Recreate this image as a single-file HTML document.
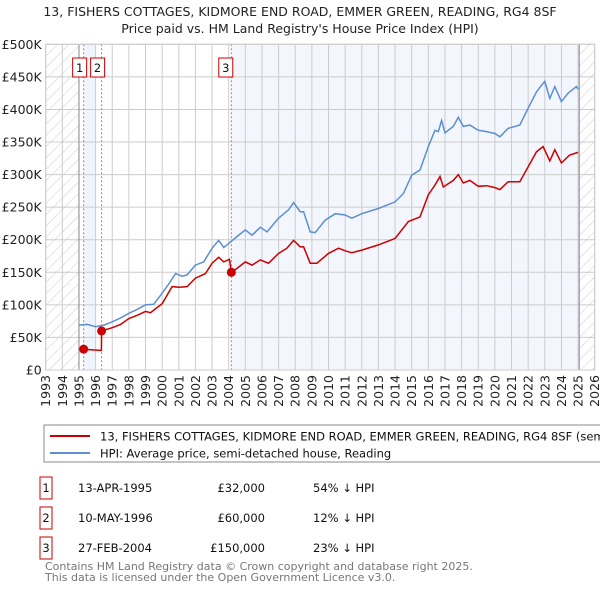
<!DOCTYPE html>
<html><head><meta charset="utf-8"><style>
body{margin:0;background:#fff;font-family:"Liberation Sans","DejaVu Sans",sans-serif;}
svg text{font-family:"DejaVu Sans","Liberation Sans",sans-serif;}
</style></head><body>
<svg id="c" width="600" height="590" xmlns="http://www.w3.org/2000/svg">
<defs><pattern id="hatch" width="8" height="8" patternUnits="userSpaceOnUse" patternTransform="rotate(45)"><line x1="0" y1="0" x2="0" y2="8" stroke="#ccc" stroke-width="1"/></pattern></defs>
<text x="300" y="16" font-size="12.5" text-anchor="middle" fill="#222">13, FISHERS COTTAGES, KIDMORE END ROAD, EMMER GREEN, READING, RG4 8SF</text>
<text x="300" y="33" font-size="12.5" text-anchor="middle" fill="#222">Price paid vs. HM Land Registry's House Price Index (HPI)</text>
<g id="plot"></g>
<rect x="44" y="425" width="570" height="37" fill="#fff" stroke="#888"/>
<line x1="50" y1="436" x2="90" y2="436" stroke="#cc0000" stroke-width="2"/>
<text x="100" y="440.5" font-size="11.5" fill="#111">13, FISHERS COTTAGES, KIDMORE END ROAD, EMMER GREEN, READING, RG4 8SF (semi-detached house)</text>
<line x1="50" y1="453" x2="90" y2="453" stroke="#5b8fd0" stroke-width="2"/>
<text x="100" y="457.5" font-size="11.5" fill="#111">HPI: Average price, semi-detached house, Reading</text>
<g id="table" font-size="11.5" fill="#111"></g>
<text x="45" y="570" font-size="11" fill="#777">Contains HM Land Registry data © Crown copyright and database right 2025.</text>
<text x="45" y="581" font-size="11" fill="#777">This data is licensed under the Open Government Licence v3.0.</text>
</svg>
<script>
const yearTicks=[1993,1994,1995,1996,1997,1998,1999,2000,2001,2002,2003,2004,2005,2006,2007,2008,2009,2010,2011,2012,2013,2014,2015,2016,2017,2018,2019,2020,2021,2022,2023,2024,2025,2026];
const valueTicks=[0,50,100,150,200,250,300,350,400,450,500];
const valueLabels=["£0","£50K","£100K","£150K","£200K","£250K","£300K","£350K","£400K","£450K","£500K"];
const hpiYears=[1995,1995.5,1996,1996.5,1997,1997.5,1998,1998.5,1999,1999.5,2000,2000.4,2000.8,2001.2,2001.5,2002,2002.5,2003,2003.4,2003.7,2004,2004.5,2005,2005.4,2005.9,2006.3,2007,2007.6,2007.9,2008.3,2008.5,2008.9,2009.2,2009.8,2010.4,2011,2011.4,2012,2013,2014,2014.5,2015,2015.5,2016,2016.4,2016.6,2016.8,2017,2017.5,2017.8,2018.1,2018.5,2019,2019.5,2020,2020.3,2020.8,2021.5,2022,2022.5,2022.8,2023,2023.3,2023.6,2024,2024.4,2024.9,2025];
const hpiValues=[69,70,66.5,69,74,80,87,93,100,101,118,132,148,144,146,161,166,187,199,188,194,205,215,207,219,212,233,246,257,243,243,212,211,230,240,238,233,240,248,258,271,299,307,343,368,366,383,364,374,388,374,376,368,366,363,358,371,376,402,427,437,443,417,435,412,425,435,431];
const priceYears=[1995.28,1996.35,1996.36,1997,1997.5,1998,1998.5,1999,1999.3,2000,2000.6,2001,2001.5,2002,2002.6,2003,2003.4,2003.7,2004.05,2004.16,2004.5,2005,2005.4,2005.9,2006.4,2007,2007.5,2007.9,2008.3,2008.5,2008.9,2009.3,2010,2010.6,2011,2011.4,2012,2013,2014,2014.8,2015.5,2016,2016.4,2016.7,2016.9,2017.5,2017.8,2018.1,2018.5,2019,2019.5,2020,2020.3,2020.8,2021.5,2022,2022.5,2022.9,2023.3,2023.6,2024,2024.5,2025];
const priceValues=[32,30,60,65,70,79,84,90,88,102,128,127,128,141,148,164,173,166,170,150,156,166,161,169,164,179,187,199,189,189,164,164,179,187,183,180,184,192,202,228,235,269,284,297,281,291,300,287,291,282,283,280,277,289,289,312,335,343,321,338,318,330,334];
const saleLabels=["1","2","3"];
const saleYears=[1995.28,1996.36,2004.16];
const saleValues=[32,60,150];
const saleDates=["13-APR-1995","10-MAY-1996","27-FEB-2004"];
const salePrices=["£32,000","£60,000","£150,000"];
const saleDiffs=["54% ↓ HPI","12% ↓ HPI","23% ↓ HPI"];

const L=45.7,R=594.7,T=44.3,B=370;
const x=y=>L+(y-1993)*(R-L)/33;
const yv=v=>B-v*(B-T)/500;
const NS="http://www.w3.org/2000/svg";
const g=document.getElementById('plot');
function mk(tag,attrs,parent){const e=document.createElementNS(NS,tag);for(const k in attrs)e.setAttribute(k,attrs[k]);(parent||g).appendChild(e);return e;}
let e;
e=mk('rect',{x:L,y:T,width:R-L,height:B-T,fill:'#fff'});


e=mk('rect',{x:L,y:T,width:x(1995)-L,height:B-T,fill:'url(#hatch)'});


e=mk('rect',{x:x(2025.07),y:T,width:R-x(2025.07),height:B-T,fill:'url(#hatch)'});


e=mk('rect',{x:x(saleYears[0]),y:T,width:x(1996)-x(saleYears[0]),height:B-T,fill:'#f0f4fd'});


e=mk('rect',{x:x(saleYears[2]),y:T,width:x(2025.07)-x(saleYears[2]),height:B-T,fill:'#f3f6fd'});


yearTicks.forEach(yr=>{
 e=mk('line',{x1:x(yr),x2:x(yr),y1:T,y2:B,stroke:'#ccc','stroke-width':1});
 
 
 e=mk('text',{x:0,y:0,'font-size':12.5,fill:'#222','text-anchor':'end',transform:`translate(${x(yr)+4.5},${B+5}) rotate(-90)`});
 e.textContent=yr;
 
 
});
valueTicks.forEach((v,i)=>{
 e=mk('line',{x1:L,x2:R,y1:yv(v),y2:yv(v),stroke:'#ccc','stroke-width':1});
 
 
 e=mk('text',{x:L-4,y:yv(v)+4.5,'font-size':12.5,fill:'#222','text-anchor':'end'});
 e.textContent=valueLabels[i];
 
 
});
e=mk('line',{x1:x(1995),x2:x(1995),y1:T,y2:B,stroke:'#888'});


e=mk('line',{x1:x(2025.07),x2:x(2025.07),y1:T,y2:B,stroke:'#888'});


const boxOff=[-4,-4,-5.6];
saleYears.forEach((s,i)=>{
 e=mk('line',{x1:x(s),x2:x(s),y1:T,y2:B,stroke:'#e66','stroke-dasharray':'2,2'});
 
 
 const bx=x(s)+boxOff[i];
 e=mk('rect',{x:bx-7,y:58,width:14,height:19,fill:'#fff',stroke:'#c00'});
 
 
 e=mk('text',{x:bx,y:72,'font-size':11.5,'text-anchor':'middle',fill:'#111'});
 e.textContent=saleLabels[i];
 
 
});
e=mk('path',{d:hpiYears.map((yr,i)=>(i?'L':'M')+x(yr).toFixed(1)+','+yv(hpiValues[i]).toFixed(1)).join(''),fill:'none',stroke:'#5b8fd0','stroke-width':1.5});


e=mk('path',{d:priceYears.map((yr,i)=>(i?'L':'M')+x(yr).toFixed(1)+','+yv(priceValues[i]).toFixed(1)).join(''),fill:'none',stroke:'#cc0000','stroke-width':1.5});


saleYears.forEach((s,i)=>{
 e=mk('circle',{cx:x(s),cy:yv(saleValues[i]),r:4.5,fill:'#cc0000'});
 
 
});
e=mk('rect',{x:L,y:T,width:R-L,height:B-T,fill:'none',stroke:'#ccc'});
const tb=document.getElementById('table');
const rowY=[488,518,548];
saleLabels.forEach((lab,i)=>{
 const yy=rowY[i];
 e=mk('rect',{x:40,y:yy-11,width:12,height:22,fill:'#fff',stroke:'#c00'},tb);
 
 
 e=mk('text',{x:46,y:yy+4,'text-anchor':'middle'},tb);e.textContent=lab;
 
 
 e=mk('text',{x:78,y:yy+4},tb);e.textContent=saleDates[i];
 
 
 e=mk('text',{x:265,y:yy+4,'text-anchor':'end'},tb);e.textContent=salePrices[i];
 
 
 e=mk('text',{x:313,y:yy+4},tb);e.textContent=saleDiffs[i];
 
 
});
</script>
</body></html>
